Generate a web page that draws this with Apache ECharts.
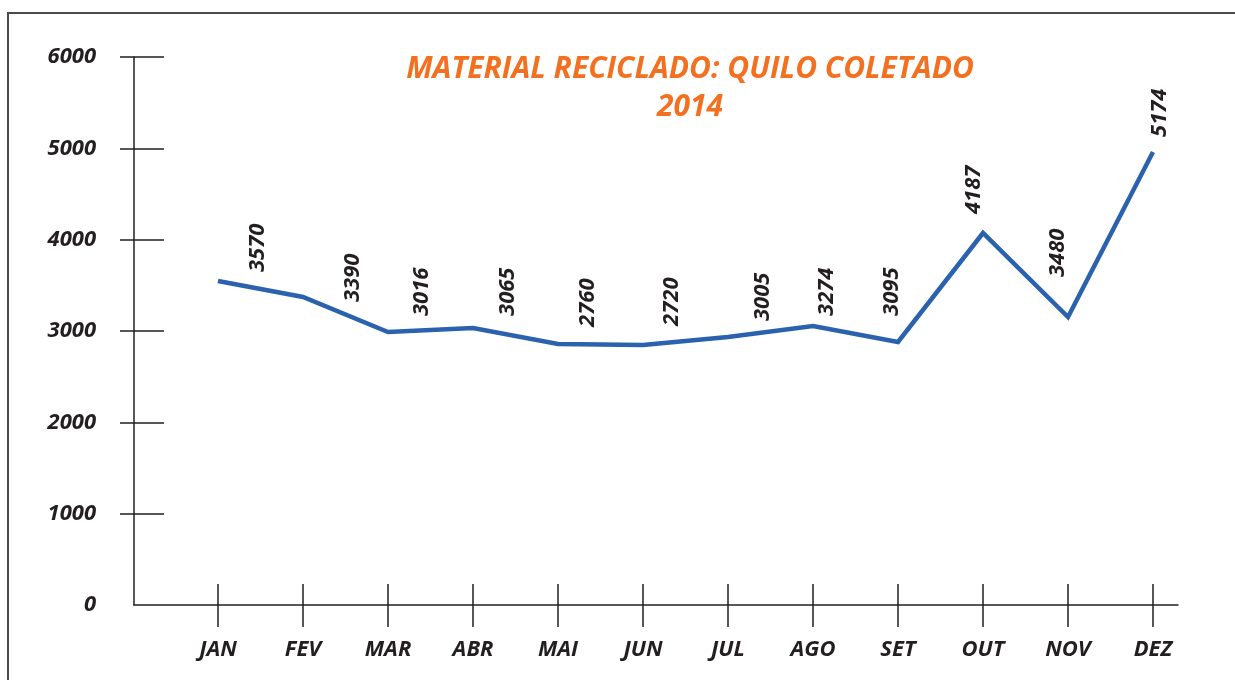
<!DOCTYPE html>
<html>
<head>
<meta charset="utf-8">
<script src="https://cdn.jsdelivr.net/npm/echarts@6/dist/echarts.min.js"></script>
<style>
  html, body { margin:0; padding:0; background:#fff; width:1235px; height:680px; overflow:hidden; }
  #frame { position:absolute; left:7px; top:12px; width:1300px; height:700px; border-top:2px solid #4a4a4a; border-left:2px solid #4a4a4a; }
  #chart { position:absolute; left:0; top:0; width:1235px; height:680px; }
</style>
</head>
<body>
<div id="frame"></div>
<div id="chart"></div>
<script>
// ---- data ----
const months = ['JAN', 'FEV', 'MAR', 'ABR', 'MAI', 'JUN', 'JUL', 'AGO', 'SET', 'OUT', 'NOV', 'DEZ'];
// heights of the drawn line
const plottedValues = [3547, 3372, 2989, 3033, 2858, 2847, 2934, 3055, 2880, 4073, 3153, 4960];
// numbers printed next to the line
const printedValues = [3570, 3390, 3016, 3065, 2760, 2720, 3005, 3274, 3095, 4187, 3480, 5174];
const yTickValues = [1000, 2000, 3000, 4000, 5000, 6000];
const titleText = 'MATERIAL RECICLADO: QUILO COLETADO\n2014';

// ---- styling (label nudges in screen px: [right, down]) ----
const labelNudge = [[40,-8],[50,6],[34,-15],[35,-11],[30,-16],[29,-18],[35,-15],[14,-9],[-6,-25],[-9,-18],[-10,-39],[7,-14]];

const FONT = '"Open Sans", "Noto Sans", sans-serif';
const INK = '#231f20';
const txt = { fontFamily: FONT, fontWeight: 'bold', fontStyle: 'italic', fontSize: 22, color: INK };

const seriesData = plottedValues.map((v, i) => ({
  value: v,
  label: { offset: [-labelNudge[i][1], labelNudge[i][0]] }
}));

const chart = echarts.init(document.getElementById('chart'), null, { renderer: 'canvas' });
chart.setOption({
  backgroundColor: 'transparent',
  animation: false,
  title: {
    text: titleText,
    left: 690, top: 50, padding: 0,
    textAlign: 'center',
    textStyle: { fontFamily: FONT, fontWeight: 'bold', fontStyle: 'italic', fontSize: 30, color: '#f37021', lineHeight: 38 }
  },
  grid: [
    { left: 134, right: 57, top: 57, bottom: 75 },
    { left: 218, right: 82, top: 57, bottom: 75 }
  ],
  xAxis: [
    { gridIndex: 0, type: 'value', min: 0, max: 1, position: 'bottom',
      axisLine: { show: true, lineStyle: { color: INK, width: 1.5 } },
      axisTick: { show: false }, axisLabel: { show: false }, splitLine: { show: false } },
    { gridIndex: 1, type: 'category', data: months, boundaryGap: false, position: 'bottom',
      axisLine: { show: false },
      axisTick: { show: true, inside: false, length: 22, alignWithLabel: true, interval: 0, lineStyle: { color: INK, width: 1.5 } },
      axisLabel: Object.assign({ margin: 34, interval: 0 }, txt),
      splitLine: { show: false } },
    { gridIndex: 1, type: 'category', data: months, boundaryGap: false, position: 'bottom',
      axisLine: { show: false },
      axisTick: { show: true, inside: true, length: 21, alignWithLabel: true, interval: 0, lineStyle: { color: INK, width: 1.5 } },
      axisLabel: { show: false }, splitLine: { show: false } }
  ],
  yAxis: [
    { gridIndex: 0, type: 'value', min: 0, max: 6000, interval: 1000, position: 'left',
      axisLine: { show: true, lineStyle: { color: INK, width: 1.5 } },
      axisTick: { show: true, inside: false, length: 14, customValues: yTickValues, lineStyle: { color: INK, width: 1.5 } },
      axisLabel: Object.assign({ margin: 38, formatter: v => String(v) }, txt),
      splitLine: { show: false } },
    { gridIndex: 0, type: 'value', min: 0, max: 6000, interval: 1000, position: 'left',
      axisLine: { show: false },
      axisTick: { show: true, inside: true, length: 30, customValues: yTickValues, lineStyle: { color: INK, width: 1.5 } },
      axisLabel: { show: false }, splitLine: { show: false } },
    { gridIndex: 1, type: 'value', min: 0, max: 6000, interval: 1000, show: false }
  ],
  series: [{
    type: 'line',
    xAxisIndex: 1, yAxisIndex: 2,
    data: seriesData,
    symbol: 'circle', symbolSize: 2, showSymbol: true,
    itemStyle: { color: 'rgba(0,0,0,0)' },
    lineStyle: { color: '#2a62ad', width: 4.5, join: 'miter' },
    label: {
      show: true,
      position: 'top', distance: 0,
      rotate: 90, align: 'left', verticalAlign: 'middle',
      formatter: p => String(printedValues[p.dataIndex]),
      fontFamily: FONT, fontWeight: 'bold', fontStyle: 'italic', fontSize: 22, color: INK
    },
    emphasis: { disabled: true }
  }]
});
</script>
</body>
</html>
